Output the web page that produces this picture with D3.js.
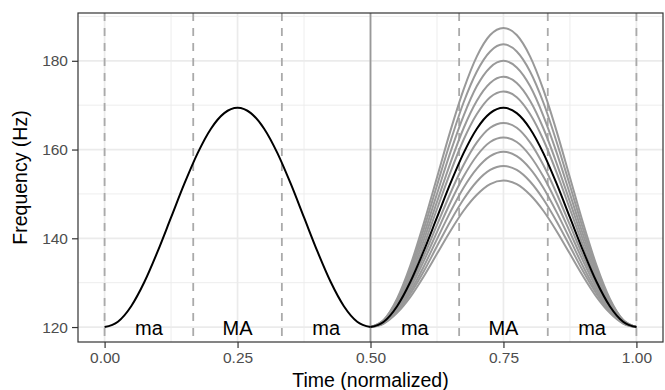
<!DOCTYPE html>
<html>
<head>
<meta charset="utf-8">
<script src="https://cdn.jsdelivr.net/npm/d3@7"></script>
<style>
  body { margin: 0; background: #fff; }
  text { font-family: "Liberation Sans", Arial, Helvetica, sans-serif; }
</style>
</head>
<body>
<svg id="chart"></svg>
<script>
// time points of one syllable hump (each half of the utterance)
const timeLeft = [0, 0.025, 0.05, 0.075, 0.10, 0.125, 0.15, 0.175, 0.20, 0.225, 0.25,
                  0.275, 0.30, 0.325, 0.35, 0.375, 0.40, 0.425, 0.45, 0.475, 0.50];
const timeRight = [0.50, 0.525, 0.55, 0.575, 0.60, 0.625, 0.65, 0.675, 0.70, 0.725, 0.75,
                   0.775, 0.80, 0.825, 0.85, 0.875, 0.90, 0.925, 0.95, 0.975, 1.00];

// black contour (same on both halves)
const baseContour = [120, 121.2, 124.7, 130.2, 137.1, 144.7, 152.3, 159.2, 164.7, 168.2, 169.4,
                     168.2, 164.7, 159.2, 152.3, 144.7, 137.1, 130.2, 124.7, 121.2, 120];

// grey contours on the right half, lowest to highest peak
const greyContours = [
  [120, 120.8, 123.2, 126.8, 131.4, 136.5, 141.6, 146.2, 149.8, 152.2, 153.0,
   152.2, 149.8, 146.2, 141.6, 136.5, 131.4, 126.8, 123.2, 120.8, 120],
  [120, 120.9, 123.5, 127.5, 132.5, 138.2, 143.8, 148.8, 152.8, 155.4, 156.3,
   155.4, 152.8, 148.8, 143.8, 138.2, 132.5, 127.5, 123.5, 120.9, 120],
  [120, 121.0, 123.8, 128.1, 133.6, 139.8, 145.9, 151.4, 155.7, 158.5, 159.5,
   158.5, 155.7, 151.4, 145.9, 139.8, 133.6, 128.1, 123.8, 121.0, 120],
  [120, 121.0, 124.1, 128.8, 134.8, 141.4, 148.0, 153.9, 158.6, 161.7, 162.7,
   161.7, 158.6, 153.9, 148.0, 141.4, 134.8, 128.8, 124.1, 121.0, 120],
  [120, 121.1, 124.4, 129.5, 135.9, 143.0, 150.1, 156.5, 161.6, 164.9, 166.0,
   164.9, 161.6, 156.5, 150.1, 143.0, 135.9, 129.5, 124.4, 121.1, 120],
  [120, 121.3, 125.1, 130.9, 138.3, 146.6, 154.8, 162.2, 168.0, 171.8, 173.1,
   171.8, 168.0, 162.2, 154.8, 146.6, 138.3, 130.9, 125.1, 121.3, 120],
  [120, 121.4, 125.4, 131.6, 139.5, 148.2, 156.9, 164.8, 171.0, 175.0, 176.4,
   175.0, 171.0, 164.8, 156.9, 148.2, 139.5, 131.6, 125.4, 121.4, 120],
  [120, 121.5, 125.7, 132.4, 140.7, 150.0, 159.3, 167.6, 174.3, 178.5, 180.0,
   178.5, 174.3, 167.6, 159.3, 150.0, 140.7, 132.4, 125.7, 121.5, 120],
  [120, 121.6, 126.1, 133.1, 142.0, 151.9, 161.7, 170.6, 177.6, 182.1, 183.7,
   182.1, 177.6, 170.6, 161.7, 151.9, 142.0, 133.1, 126.1, 121.6, 120],
  [120, 121.6, 126.4, 133.9, 143.3, 153.7, 164.1, 173.5, 181.0, 185.8, 187.4,
   185.8, 181.0, 173.5, 164.1, 153.7, 143.3, 133.9, 126.4, 121.6, 120]
];

// syllable boundaries and labels
const dashedBounds = [0, 1/6, 1/3, 2/3, 5/6, 1];
const midBound = 0.5;
const syllables = ["ma", "MA", "ma", "ma", "MA", "ma"];
const syllableCenters = [1/12, 3/12, 5/12, 7/12, 9/12, 11/12];

const xTicks = [0, 0.25, 0.5, 0.75, 1];
const xMinor = [0.125, 0.375, 0.625, 0.875];
const yTicks = [120, 140, 160, 180];
const yMinor = [130, 150, 170, 190];

const width = 665;
const height = 390;
const margin = { top: 13, right: 2, bottom: 48, left: 78 };

const svg = d3.select("#chart").attr("width", width).attr("height", height);

const allVals = baseContour.concat(...greyContours);
const yMin = d3.min(allVals), yMax = d3.max(allVals);
const yPad = (yMax - yMin) * 0.05;

const x = d3.scaleLinear()
    .domain([-0.05, 1.05])
    .range([margin.left, width - margin.right]);

const y = d3.scaleLinear()
    .domain([yMin - yPad, yMax + yPad])
    .range([height - margin.bottom, margin.top]);

const plotW = width - margin.left - margin.right;
const plotH = height - margin.top - margin.bottom;

// grid
const grid = svg.append("g");
grid.selectAll(".xminor").data(xMinor).enter().append("line")
    .attr("x1", d => x(d)).attr("x2", d => x(d))
    .attr("y1", margin.top).attr("y2", margin.top + plotH)
    .attr("stroke", "#ebebeb").attr("stroke-width", 0.9);
grid.selectAll(".yminor").data(yMinor).enter().append("line")
    .attr("x1", margin.left).attr("x2", margin.left + plotW)
    .attr("y1", d => y(d)).attr("y2", d => y(d))
    .attr("stroke", "#ebebeb").attr("stroke-width", 0.9);
grid.selectAll(".xmajor").data(xTicks).enter().append("line")
    .attr("x1", d => x(d)).attr("x2", d => x(d))
    .attr("y1", margin.top).attr("y2", margin.top + plotH)
    .attr("stroke", "#ebebeb").attr("stroke-width", 1.7);
grid.selectAll(".ymajor").data(yTicks).enter().append("line")
    .attr("x1", margin.left).attr("x2", margin.left + plotW)
    .attr("y1", d => y(d)).attr("y2", d => y(d))
    .attr("stroke", "#ebebeb").attr("stroke-width", 1.7);

// boundaries
svg.append("g").selectAll("line").data(dashedBounds).enter().append("line")
    .attr("x1", d => x(d)).attr("x2", d => x(d))
    .attr("y1", margin.top).attr("y2", margin.top + plotH)
    .attr("stroke", "#aaaaaa").attr("stroke-width", 1.8)
    .attr("stroke-dasharray", "8,7");

svg.append("line")
    .attr("x1", x(midBound)).attr("x2", x(midBound))
    .attr("y1", margin.top).attr("y2", margin.top + plotH)
    .attr("stroke", "#999999").attr("stroke-width", 1.8);

// contours
const line = d3.line()
    .x(d => x(d[0]))
    .y(d => y(d[1]))
    .curve(d3.curveMonotoneX);

svg.append("g").selectAll("path").data(greyContours).enter().append("path")
    .attr("fill", "none")
    .attr("stroke", "#999999")
    .attr("stroke-width", 2)
    .attr("d", d => line(d3.zip(timeRight, d)));

[timeLeft, timeRight].forEach(function (t) {
    svg.append("path")
        .attr("fill", "none")
        .attr("stroke", "#000")
        .attr("stroke-width", 2)
        .attr("d", line(d3.zip(t, baseContour)));
});

// syllable labels
svg.append("g").selectAll("text").data(syllables).enter().append("text")
    .attr("x", (d, i) => x(syllableCenters[i]))
    .attr("y", y(120) + 7.5)
    .attr("text-anchor", "middle")
    .attr("font-size", "20px")
    .attr("fill", "#000")
    .text(d => d);

// panel border
svg.append("rect")
    .attr("x", margin.left).attr("y", margin.top)
    .attr("width", plotW).attr("height", plotH)
    .attr("fill", "none").attr("stroke", "#333").attr("stroke-width", 1.2);

// axes
const xAxis = svg.append("g")
    .attr("transform", "translate(0," + (margin.top + plotH) + ")")
    .call(d3.axisBottom(x).tickValues(xTicks).tickFormat(d3.format(".2f")).tickSize(6).tickPadding(4));
const yAxis = svg.append("g")
    .attr("transform", "translate(" + margin.left + ",0)")
    .call(d3.axisLeft(y).tickValues(yTicks).tickSize(6).tickPadding(4));

[xAxis, yAxis].forEach(function (a) {
    a.select(".domain").remove();
    a.selectAll(".tick line").attr("stroke", "#333").attr("stroke-width", 1.2);
    a.selectAll(".tick text")
        .attr("fill", "#4d4d4d")
        .style("font-size", "15.5px")
        .style("font-family", "'Liberation Sans', Arial, sans-serif");
});

// titles
svg.append("text")
    .attr("x", margin.left + plotW / 2)
    .attr("y", 387)
    .attr("text-anchor", "middle")
    .attr("font-size", "19.5px")
    .text("Time (normalized)");

svg.append("text")
    .attr("transform", "translate(27," + (margin.top + plotH / 2) + ") rotate(-90)")
    .attr("text-anchor", "middle")
    .attr("font-size", "19.5px")
    .text("Frequency (Hz)");
</script>
</body>
</html>
